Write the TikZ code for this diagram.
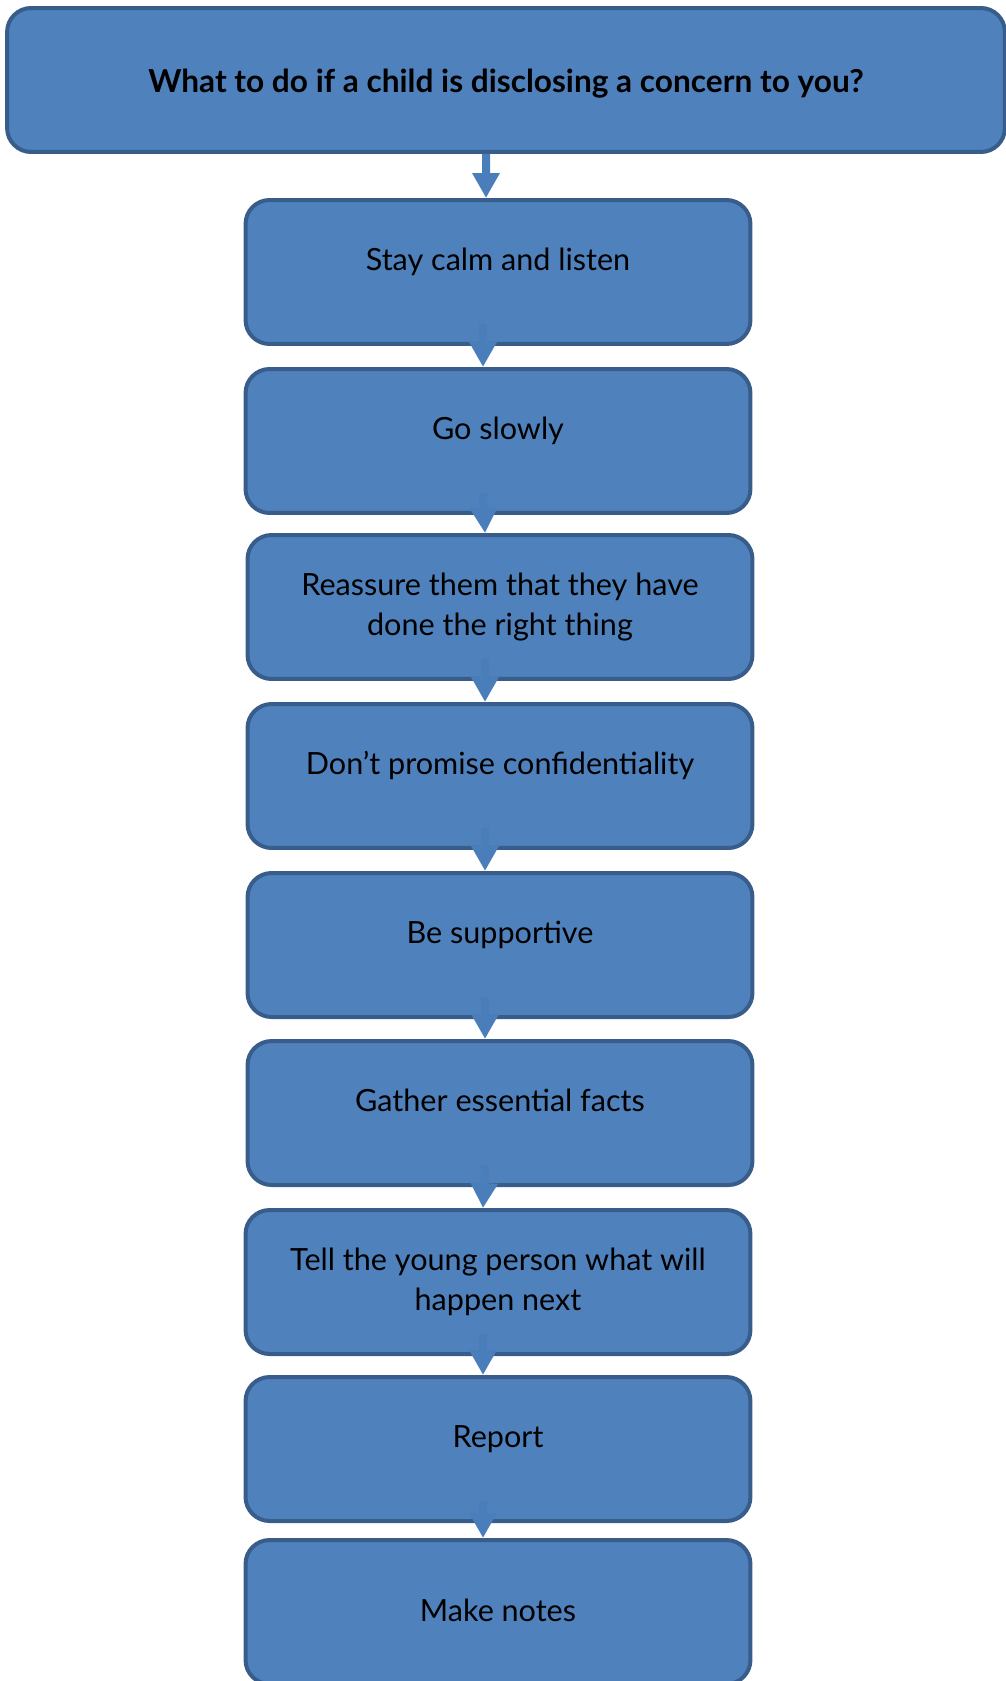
\documentclass[tikz,border=0pt]{standalone}
\usepackage{fontspec}
\setmainfont{Lato}
\usetikzlibrary{arrows.meta}

\definecolor{boxfill}{HTML}{4F81BD}
\definecolor{boxline}{HTML}{385D8A}
\definecolor{arrowblue}{HTML}{4A7EBB}

\begin{document}
\begin{tikzpicture}[x=0.02cm, y=-0.02cm,
    stepbox/.style={rectangle, rounded corners=0.48cm, draw=boxline, fill=boxfill,
        line width=0.08cm, minimum width=10.1cm, minimum height=2.88cm,
        align=center, font=\fontsize{17.4pt}{22.8pt}\selectfont},
    oneline/.style={text height=0.46cm, text depth=0.54cm},
    titlebox/.style={stepbox, minimum width=19.96cm,
        font=\fontsize{18pt}{22pt}\selectfont\bfseries,
        text height=0.5cm, text depth=0cm},
    flow/.style={-{Triangle[length=0.5cm, width=0.52cm]}, arrowblue, line width=0.16cm}
]
\useasboundingbox (0,0) rectangle (1006,1681);

% Title box
\node[titlebox] (title) at (506,80) {What to do if a child is disclosing a concern to you?};

% The steps
\node[stepbox, oneline] (s1) at (498,272) {Stay calm and listen};
\node[stepbox, oneline] (s2) at (498,441) {Go slowly};
\node[stepbox] (s3) at (500,607) {Reassure them that they have\\done the right thing};
\node[stepbox, oneline] (s4) at (500,776) {Don’t promise confidentiality};
\node[stepbox, oneline] (s5) at (500,945) {Be supportive};
\node[stepbox, oneline] (s6) at (500,1113) {Gather essential facts};
\node[stepbox] (s7) at (498,1282) {Tell the young person what will\\happen next};
\node[stepbox, oneline] (s8) at (498,1449) {Report};
\node[stepbox, text height=0.46cm, text depth=0.1cm] (s9) at (498,1612) {Make notes};

% Arrows (drawn over the upper box)
\draw[flow] ([xshift=-0.4cm]title.south) -- ([xshift=-0.24cm]s1.north);
\foreach \a/\b in {s1/s2, s2/s3, s3/s4, s4/s5, s5/s6, s6/s7, s7/s8, s8/s9}
  \draw[flow] ([xshift=-0.3cm, yshift=0.44cm]\a.south) -- ([xshift=-0.3cm]\b.north);

\end{tikzpicture}
\end{document}
